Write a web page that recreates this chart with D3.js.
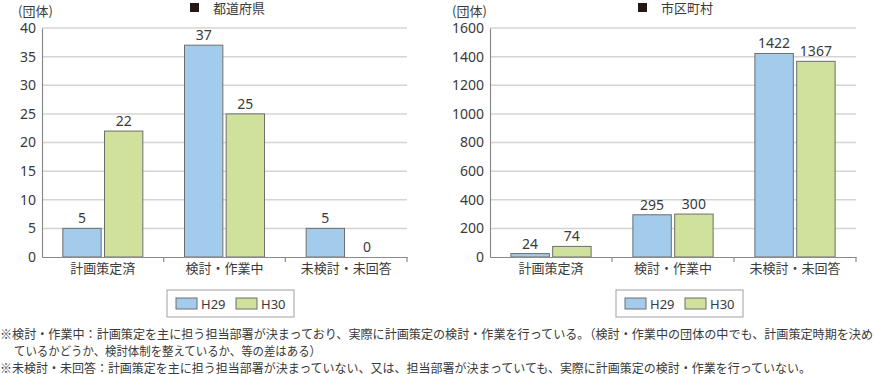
<!DOCTYPE html>
<html>
<head>
<meta charset="utf-8">
<script src="https://cdn.jsdelivr.net/npm/d3@7"></script>
<style>
  body { margin: 0; background: #fff; }
  svg text { font-family: "Noto Sans CJK JP", "Noto Sans", sans-serif; fill: #3a3a3a; }
</style>
</head>
<body>
<div id="chart"></div>
<script>
// Data
//= ================================
var categories = ["計画策定済", "検討・作業中", "未検討・未回答"];
var seriesNames = ["H29", "H30"];
var prefValues = [[5, 22], [37, 25], [5, 0]];
var muniValues = [[24, 74], [295, 300], [1422, 1367]];
var prefTicks = [0, 5, 10, 15, 20, 25, 30, 35, 40];
var muniTicks = [0, 200, 400, 600, 800, 1000, 1200, 1400, 1600];
var notes = [
    "※検討・作業中：計画策定を主に担う担当部署が決まっており、実際に計画策定の検討・作業を行っている。（検討・作業中の団体の中でも、計画策定時期を決め",
    "ているかどうか、検討体制を整えているか、等の差はある）",
    "※未検討・未回答：計画策定を主に担う担当部署が決まっていない、又は、担当部署が決まっていても、実際に計画策定の検討・作業を行っていない。"
];

var colors = { H29: "#a3cbeb", H30: "#cfe19a" };

var svgWidth = 874;
var svgHeight = 374;

var svg = d3.select("#chart")
    .append("svg")
    .attr("width", svgWidth)
    .attr("height", svgHeight);

function drawPanel(opts) {
    var g = svg.append("g");
    var top = 28, bottom = 257;

    var x = d3.scaleBand()
        .domain(categories)
        .range([opts.left, opts.right]);

    var xInner = d3.scaleBand()
        .domain(seriesNames)
        .range([0, x.bandwidth()])
        .paddingInner(0.08)
        .paddingOuter(0.5);

    var y = d3.scaleLinear()
        .domain([0, opts.max])
        .range([bottom, top]);

    // gridlines
    g.selectAll(".grid")
        .data(opts.ticks.slice(1))
        .enter()
        .append("line")
        .attr("x1", opts.left)
        .attr("x2", opts.right)
        .attr("y1", d => y(d))
        .attr("y2", d => y(d))
        .attr("stroke", "#d4d4d4")
        .attr("stroke-width", 1.5);

    // y axis
    var leftAxis = d3.axisLeft(y).tickValues(opts.ticks).tickFormat(d3.format("d")).tickSize(0).tickPadding(6);
    var yAxis = g.append("g")
        .attr("transform", `translate(${opts.left},0)`)
        .call(leftAxis);
    yAxis.select(".domain").attr("stroke", "#8a8a8a").attr("stroke-width", 1.2);
    yAxis.selectAll("text")
        .attr("font-size", "14px")
        .attr("fill", "#3a3a3a")
        .style("font-family", "'Noto Sans', sans-serif");

    // bars
    var groups = g.selectAll(".cat")
        .data(opts.values)
        .enter()
        .append("g")
        .attr("transform", (d, i) => `translate(${x(categories[i])},0)`);

    groups.selectAll("rect")
        .data(d => d.map((v, j) => ({ key: seriesNames[j], value: v })))
        .enter()
        .filter(d => d.value > 0)
        .append("rect")
        .attr("x", d => xInner(d.key))
        .attr("width", xInner.bandwidth())
        .attr("y", d => y(d.value))
        .attr("height", d => bottom - y(d.value))
        .attr("fill", d => colors[d.key])
        .attr("stroke", "#6e6e6e")
        .attr("stroke-width", 1);

    groups.selectAll(".val")
        .data(d => d.map((v, j) => ({ key: seriesNames[j], value: v })))
        .enter()
        .append("text")
        .attr("x", d => xInner(d.key) + xInner.bandwidth() / 2)
        .attr("y", d => y(d.value) - 5)
        .attr("text-anchor", "middle")
        .attr("font-size", "14px")
        .style("font-family", "'Noto Sans', sans-serif")
        .text(d => d.value);

    // x axis
    var bottomAxis = d3.axisBottom(x).tickSize(0).tickPadding(7);
    var xAxis = g.append("g")
        .attr("transform", `translate(0,${bottom})`)
        .call(bottomAxis);
    xAxis.select(".domain").attr("stroke", "#8a8a8a").attr("stroke-width", 1.2);
    xAxis.selectAll("text").attr("font-size", "13px").attr("fill", "#3a3a3a");

    // boundary ticks
    g.selectAll(".btick")
        .data(categories.slice(1).map(c => x(c)).concat([opts.right]))
        .enter()
        .append("line")
        .attr("x1", d => d)
        .attr("x2", d => d)
        .attr("y1", bottom)
        .attr("y2", bottom + 5)
        .attr("stroke", "#8a8a8a")
        .attr("stroke-width", 1.2);

    // unit label & title
    g.append("text")
        .attr("x", opts.unitX)
        .attr("y", 16)
        .attr("font-size", "13px")
        .text("(団体)");

    g.append("rect")
        .attr("x", opts.titleX)
        .attr("y", 3)
        .attr("width", 9)
        .attr("height", 9)
        .attr("fill", "#231815");

    g.append("text")
        .attr("x", opts.titleX + 23)
        .attr("y", 13)
        .attr("font-size", "13px")
        .text(opts.title);

    // legend
    var lg = g.append("g").attr("transform", `translate(${opts.legendX},290)`);
    lg.append("rect")
        .attr("width", 127)
        .attr("height", 27)
        .attr("fill", "#fff")
        .attr("stroke", "#a0a0a0");
    seriesNames.forEach(function (s, i) {
        lg.append("rect")
            .attr("x", 9 + i * 60)
            .attr("y", 8)
            .attr("width", 21)
            .attr("height", 11)
            .attr("fill", colors[s])
            .attr("stroke", "#6e6e6e");
        lg.append("text")
            .attr("x", 34 + i * 60)
            .attr("y", 19)
            .attr("font-size", "13px")
            .style("font-family", "'Noto Sans', sans-serif")
            .text(s);
    });
}

drawPanel({
    left: 42, right: 407, max: 40, ticks: prefTicks, values: prefValues,
    unitX: 18, titleX: 190, title: "都道府県", legendX: 167
});

drawPanel({
    left: 490, right: 856, max: 1600, ticks: muniTicks, values: muniValues,
    unitX: 452, titleX: 638, title: "市区町村", legendX: 616
});

// footnotes
var noteLayout = [
    { x: 0, y: 339, w: 873 },
    { x: 14, y: 356, w: 307 },
    { x: 0, y: 373, w: 811 }
];
svg.selectAll(".note")
    .data(notes)
    .enter()
    .append("text")
    .attr("x", (d, i) => noteLayout[i].x)
    .attr("y", (d, i) => noteLayout[i].y)
    .attr("font-size", "12.5px")
    .attr("textLength", (d, i) => noteLayout[i].w)
    .attr("lengthAdjust", "spacingAndGlyphs")
    .text(d => d);
</script>
</body>
</html>
